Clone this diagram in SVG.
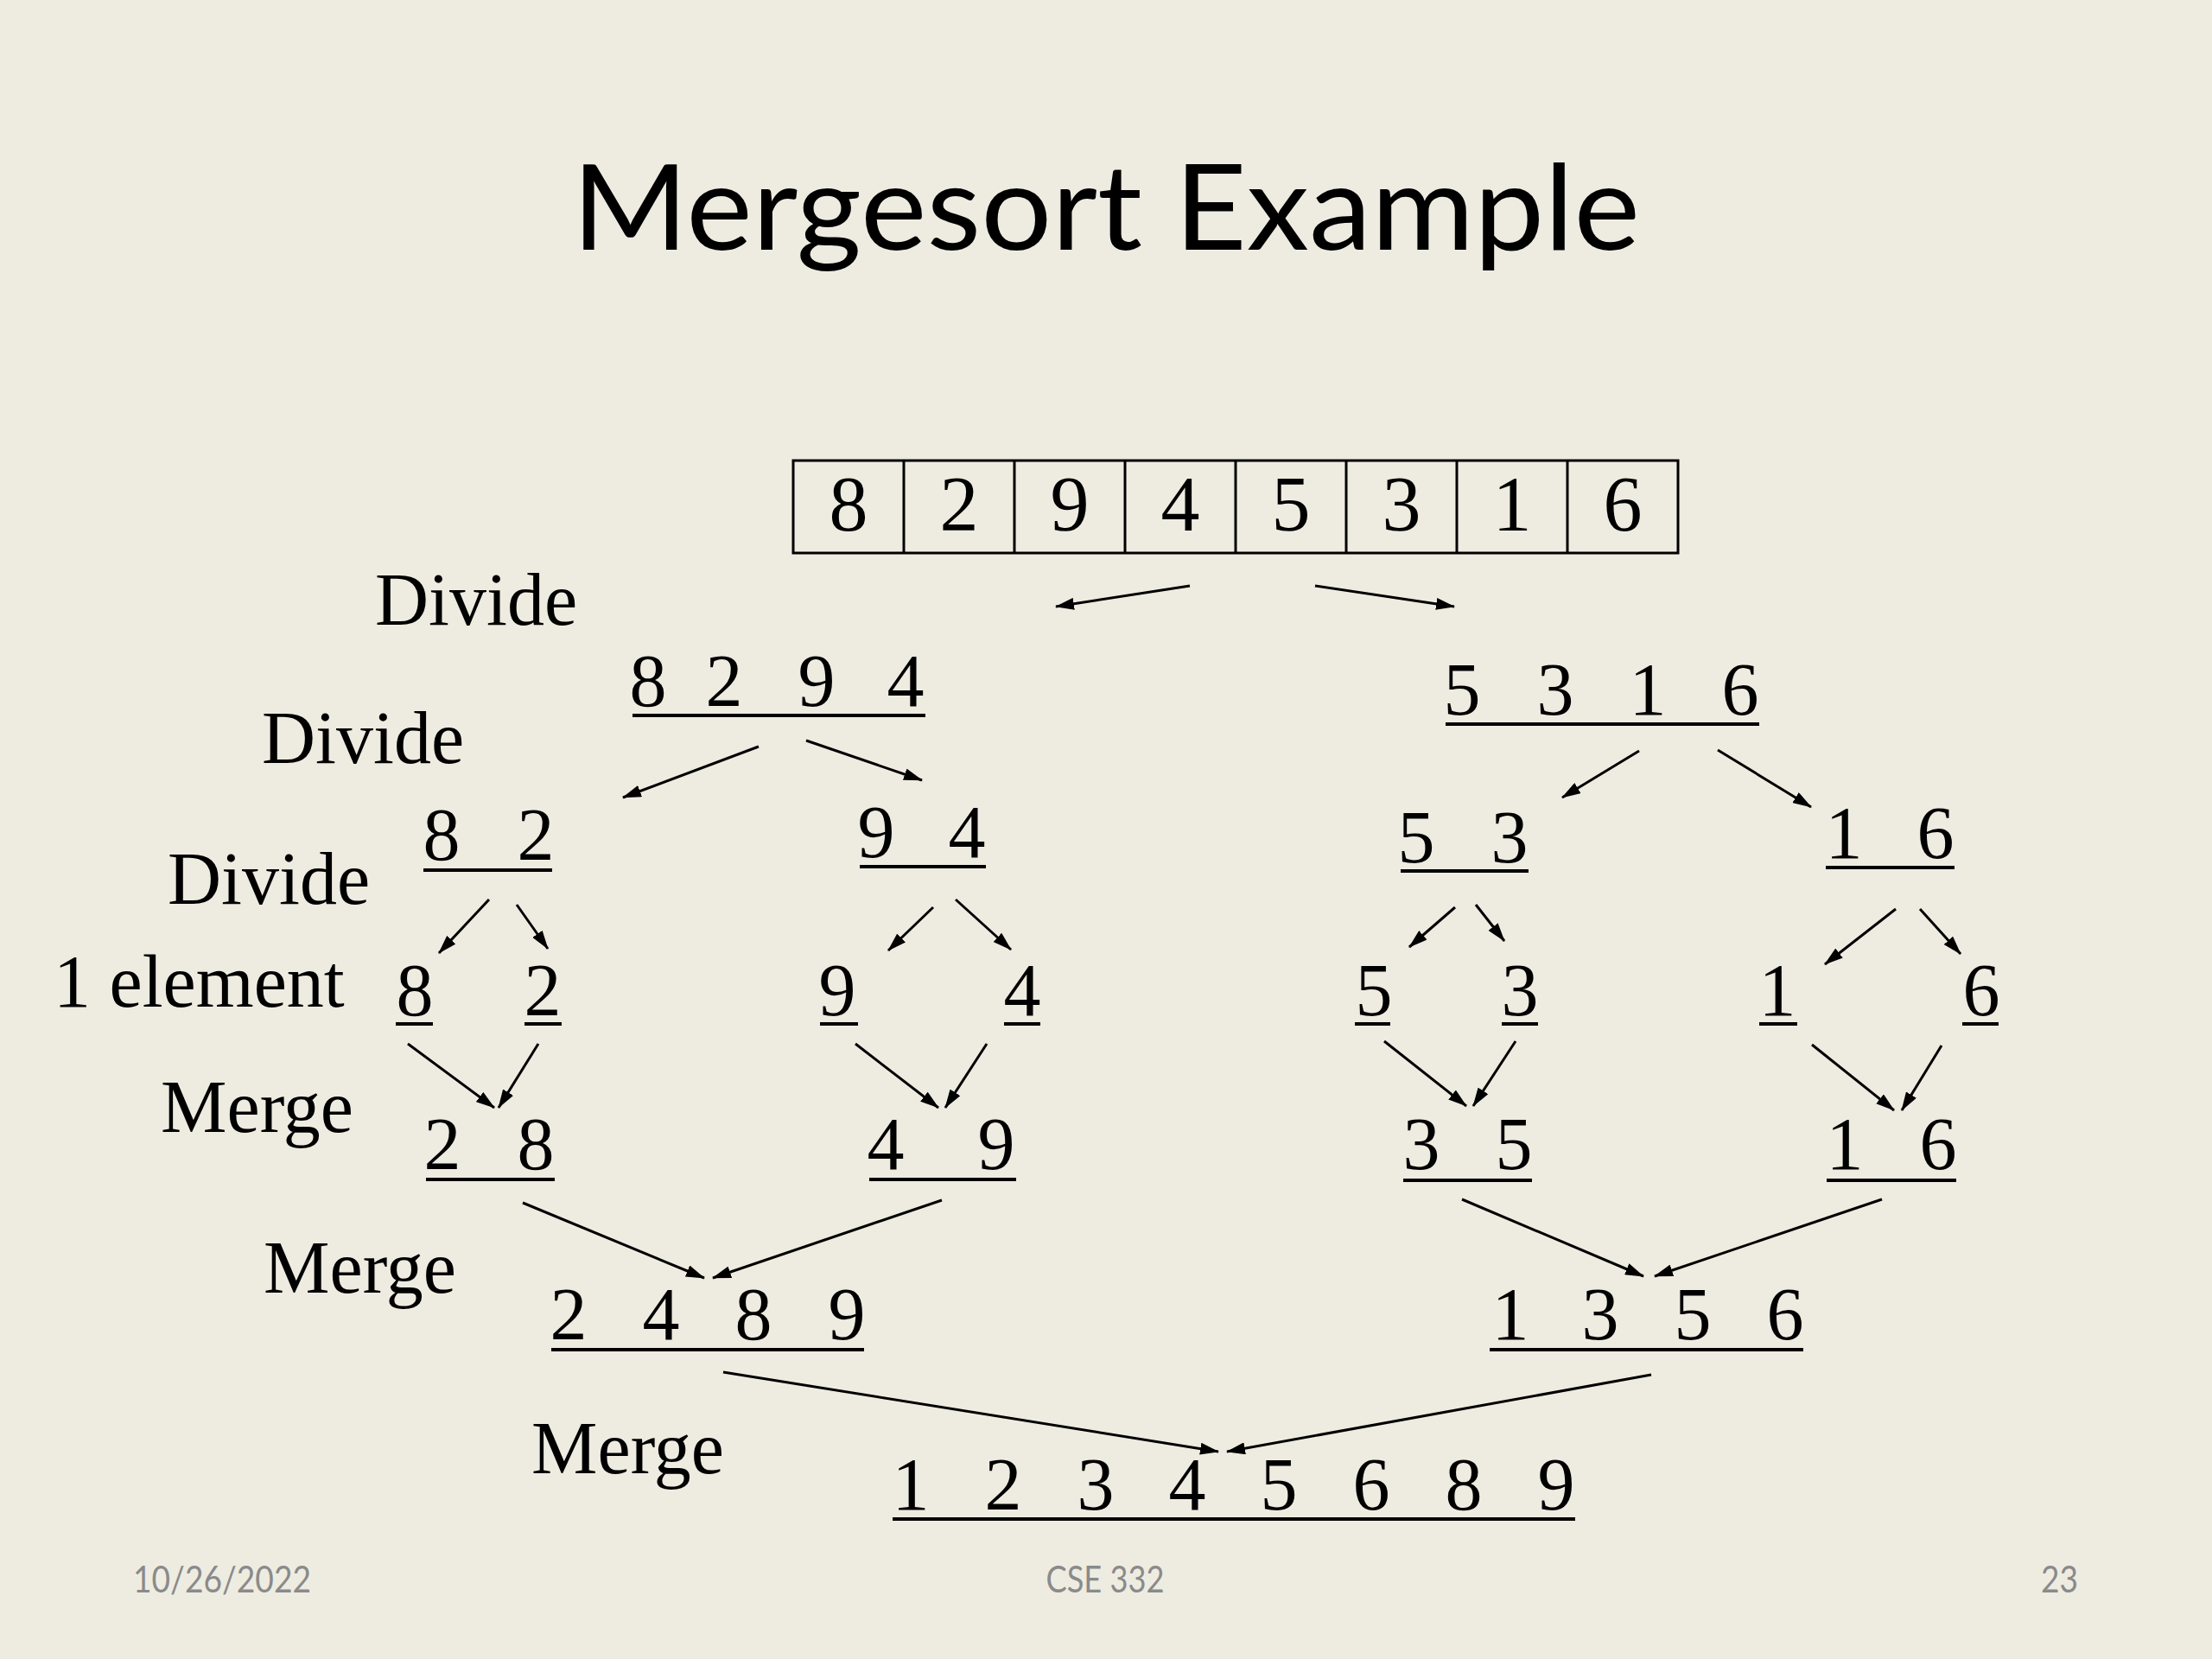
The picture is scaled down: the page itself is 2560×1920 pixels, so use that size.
<svg xmlns="http://www.w3.org/2000/svg" width="2560" height="1920" viewBox="0 0 2560 1920">
<style>
.t{font-family:"Liberation Serif","Times New Roman",serif;font-size:86px;fill:#000}
.n{font-family:"Liberation Serif","Times New Roman",serif;font-size:86px;fill:#000;text-anchor:middle}
.a{font-family:"Liberation Serif","Times New Roman",serif;font-size:90px;fill:#000;text-anchor:middle}
.u{stroke:#000;stroke-width:4;fill:none}
.c{stroke:#000;stroke-width:3;fill:none;marker-end:url(#ah)}
.f{font-family:Lato,"Open Sans",sans-serif;font-size:42px;fill:#8a8a8a}
.cell{fill:none;stroke:#000;stroke-width:3}
</style>
<defs>
<marker id="ah" markerUnits="userSpaceOnUse" markerWidth="22" markerHeight="14" refX="21" refY="7" orient="auto">
<path d="M0,0 L22,7 L0,14 z" fill="#000"/>
</marker>
</defs>
<rect width="2560" height="1920" fill="#eeece1"/>
<text id="title" x="1280" y="289" text-anchor="middle" font-family="Lato,'Open Sans',sans-serif" font-size="138" textLength="1236" lengthAdjust="spacingAndGlyphs" fill="#000">Mergesort Example</text>

<g id="labels">
<text class="t" x="434" y="723">Divide</text>
<text class="t" x="303" y="883">Divide</text>
<text class="t" x="194" y="1046">Divide</text>
<text class="t" x="62" y="1165">1 element</text>
<text class="t" x="186" y="1310">Merge</text>
<text class="t" x="305" y="1496">Merge</text>
<text class="t" x="615" y="1705">Merge</text>
</g>

<g id="array">
<rect class="cell" x="918" y="533" width="1024" height="107"/>
<path class="cell" d="M1046,533V640M1174,533V640M1302,533V640M1430,533V640M1558,533V640M1686,533V640M1814,533V640"/>
<text class="a" x="982 1110 1238 1366 1494 1622 1750 1878" y="614">82945316</text>
</g>

<g id="n8294">
<text class="n" x="750 838 945 1048" y="817">8294</text>
<line class="u" x1="732" y1="828" x2="1071" y2="828"/>
</g>
<g id="n5316">
<text class="n" x="1692 1800 1907 2014" y="827">5316</text>
<line class="u" x1="1673" y1="838" x2="2036" y2="838"/>
</g>

<g id="n82">
<text class="n" x="511 620" y="995">82</text>
<line class="u" x1="490" y1="1007" x2="639" y2="1007"/>
</g>
<g id="n94">
<text class="n" x="1014 1119" y="992">94</text>
<line class="u" x1="995" y1="1003" x2="1141" y2="1003"/>
</g>
<g id="n53">
<text class="n" x="1639 1747" y="998">53</text>
<line class="u" x1="1621" y1="1008" x2="1769" y2="1008"/>
</g>
<g id="n16a">
<text class="n" x="2134 2240" y="993">16</text>
<line class="u" x1="2113" y1="1004" x2="2262" y2="1004"/>
</g>

<g id="e8"><text class="n" x="480" y="1175">8</text><line class="u" x1="458" y1="1185" x2="501" y2="1185"/></g>
<g id="e2"><text class="n" x="628" y="1175">2</text><line class="u" x1="607" y1="1185" x2="650" y2="1185"/></g>
<g id="e9"><text class="n" x="969" y="1175">9</text><line class="u" x1="949" y1="1185" x2="993" y2="1185"/></g>
<g id="e4"><text class="n" x="1183" y="1175">4</text><line class="u" x1="1162" y1="1185" x2="1204" y2="1185"/></g>
<g id="e5"><text class="n" x="1590" y="1175">5</text><line class="u" x1="1568" y1="1185" x2="1609" y2="1185"/></g>
<g id="e3"><text class="n" x="1759" y="1175">3</text><line class="u" x1="1738" y1="1185" x2="1780" y2="1185"/></g>
<g id="e1"><text class="n" x="2057" y="1175">1</text><line class="u" x1="2036" y1="1185" x2="2080" y2="1185"/></g>
<g id="e6"><text class="n" x="2293" y="1175">6</text><line class="u" x1="2271" y1="1185" x2="2313" y2="1185"/></g>

<g id="n28">
<text class="n" x="512 620" y="1353">28</text>
<line class="u" x1="493" y1="1365" x2="642" y2="1365"/>
</g>
<g id="n49">
<text class="n" x="1025 1153" y="1353">49</text>
<line class="u" x1="1006" y1="1365" x2="1176" y2="1365"/>
</g>
<g id="n35">
<text class="n" x="1645 1752" y="1353">35</text>
<line class="u" x1="1624" y1="1366" x2="1773" y2="1366"/>
</g>
<g id="n16b">
<text class="n" x="2135 2243" y="1353">16</text>
<line class="u" x1="2114" y1="1366" x2="2264" y2="1366"/>
</g>

<g id="n2489">
<text class="n" x="658 765 872 980" y="1550">2489</text>
<line class="u" x1="638" y1="1562" x2="1000" y2="1562"/>
</g>
<g id="n1356">
<text class="n" x="1748 1852 1959 2066" y="1550">1356</text>
<line class="u" x1="1724" y1="1562" x2="2087" y2="1562"/>
</g>

<g id="n12345689">
<text class="n" x="1054 1161 1268 1374 1480 1587 1694 1801" y="1747">12345689</text>
<line class="u" x1="1033" y1="1758" x2="1823" y2="1758"/>
</g>

<g id="connectors">
<line class="c" x1="1377" y1="678" x2="1222" y2="702"/>
<line class="c" x1="1522" y1="678" x2="1683" y2="702"/>
<line class="c" x1="878" y1="864" x2="721" y2="923"/>
<line class="c" x1="933" y1="857" x2="1067" y2="903"/>
<line class="c" x1="1897" y1="869" x2="1808" y2="923"/>
<line class="c" x1="1988" y1="868" x2="2096" y2="934"/>
<line class="c" x1="566" y1="1041" x2="508" y2="1103"/>
<line class="c" x1="598" y1="1047" x2="634" y2="1098"/>
<line class="c" x1="1080" y1="1050" x2="1028" y2="1100"/>
<line class="c" x1="1106" y1="1041" x2="1170" y2="1099"/>
<line class="c" x1="1684" y1="1050" x2="1631" y2="1096"/>
<line class="c" x1="1708" y1="1047" x2="1741" y2="1089"/>
<line class="c" x1="2194" y1="1052" x2="2112" y2="1116"/>
<line class="c" x1="2222" y1="1052" x2="2269" y2="1104"/>
<line class="c" x1="472" y1="1208" x2="572" y2="1282"/>
<line class="c" x1="623" y1="1208" x2="577" y2="1282"/>
<line class="c" x1="990" y1="1208" x2="1086" y2="1282"/>
<line class="c" x1="1142" y1="1208" x2="1094" y2="1282"/>
<line class="c" x1="1602" y1="1205" x2="1697" y2="1280"/>
<line class="c" x1="1754" y1="1205" x2="1705" y2="1280"/>
<line class="c" x1="2097" y1="1209" x2="2192" y2="1285"/>
<line class="c" x1="2247" y1="1210" x2="2201" y2="1285"/>
<line class="c" x1="605" y1="1392" x2="815" y2="1479"/>
<line class="c" x1="1090" y1="1389" x2="825" y2="1479"/>
<line class="c" x1="1692" y1="1388" x2="1902" y2="1477"/>
<line class="c" x1="2178" y1="1388" x2="1915" y2="1477"/>
<line class="c" x1="837" y1="1588" x2="1410" y2="1680"/>
<line class="c" x1="1911" y1="1591" x2="1420" y2="1680"/>
</g>

<g id="footer">
<text class="f" x="154" y="1843" textLength="206" lengthAdjust="spacingAndGlyphs">10/26/2022</text>
<text class="f" x="1279" y="1843" text-anchor="middle" textLength="137" lengthAdjust="spacingAndGlyphs">CSE 332</text>
<text class="f" x="2362" y="1843" textLength="43" lengthAdjust="spacingAndGlyphs">23</text>
</g>
</svg>
